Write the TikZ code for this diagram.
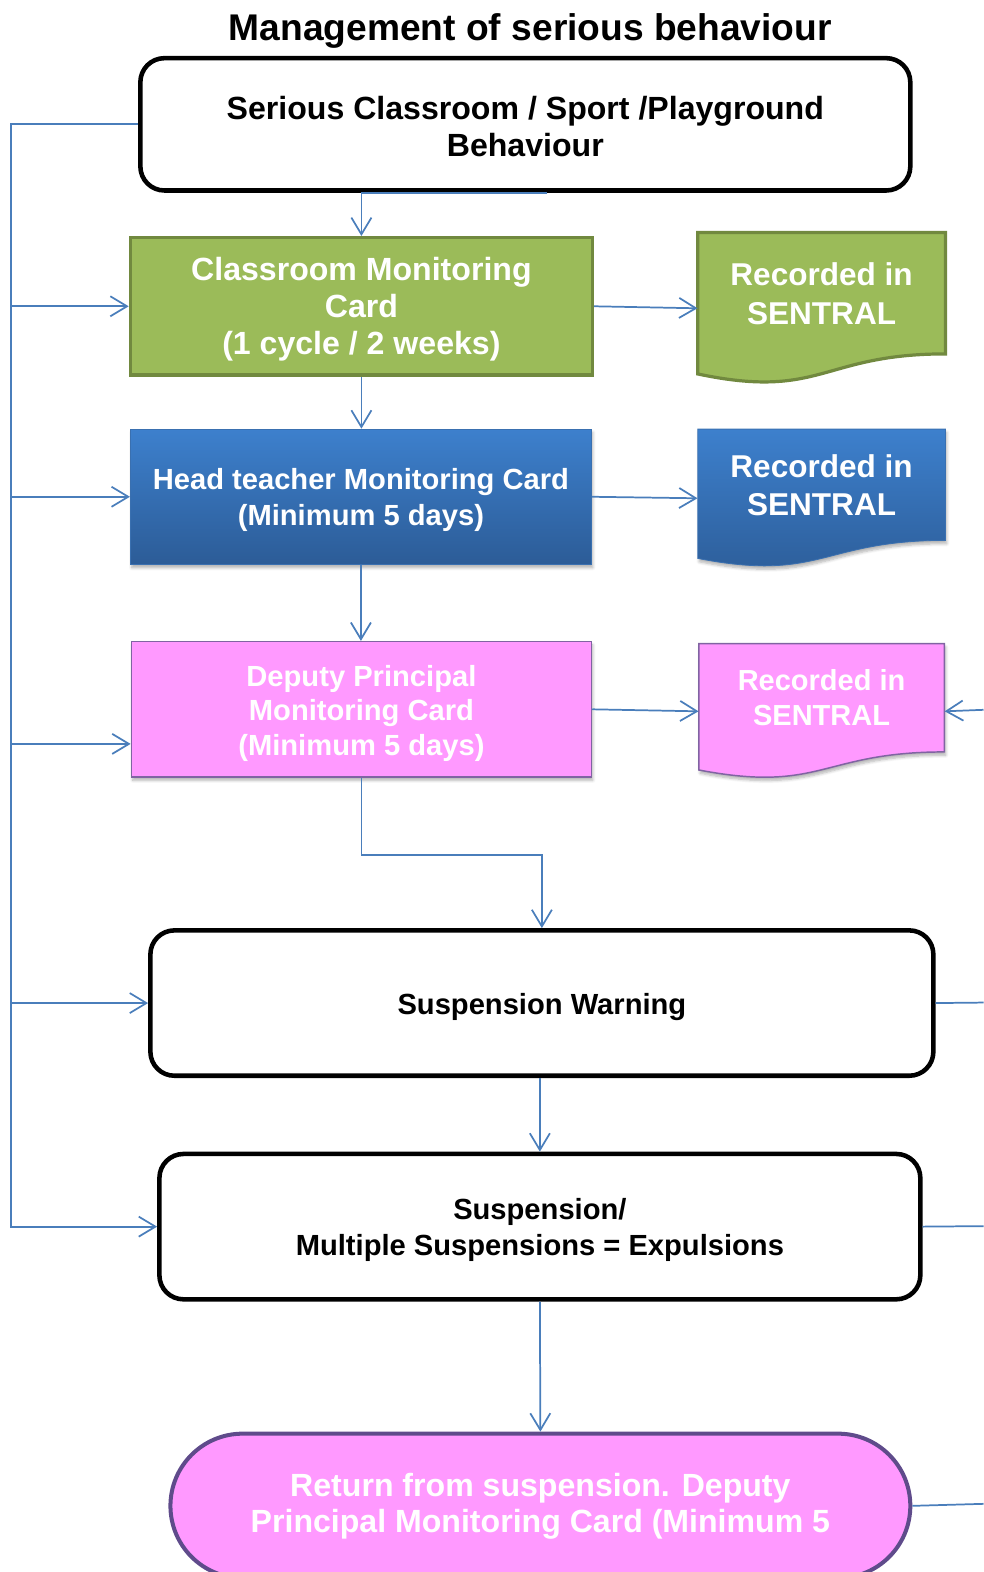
\documentclass[tikz,border=0pt]{standalone}
\usepackage{fontspec}
\setmainfont{Liberation Sans}
\usetikzlibrary{arrows.meta,calc,shapes.misc,shadows.blur}
\definecolor{conn}{HTML}{4A7EBB}
\definecolor{gfill}{HTML}{9BBB59}
\definecolor{gdraw}{HTML}{71893F}
\definecolor{btop}{HTML}{3D80CD}
\definecolor{bbot}{HTML}{2C5C97}
\definecolor{bdraw}{HTML}{3A70B0}
\definecolor{pfill}{HTML}{FF99FF}
\definecolor{pdraw}{HTML}{8064A2}
\definecolor{tdraw}{HTML}{5F4B8B}
\tikzset{
  arr/.style={draw=conn, line width=1.3pt, -{Straight Barb[length=12.5pt,width=15pt]}},
  ln/.style={draw=conn, line width=1.3pt},
  titletext/.style={inner sep=0pt, font=\fontsize{27.8}{32}\selectfont\bfseries},
  blackbox/.style={draw=black, line width=3.4pt, rounded corners=18pt, fill=white, inner sep=0pt},
  greenbox/.style={draw=gdraw, line width=2.4pt, fill=gfill, inner sep=0pt},
  bluebox/.style={draw=bdraw, line width=0.6pt, top color=btop, bottom color=bbot, inner sep=0pt,
    blur shadow={shadow xshift=1pt, shadow yshift=-2.5pt, shadow blur steps=6, shadow opacity=30}},
  pinkbox/.style={draw=pdraw, line width=1.1pt, fill=pfill, inner sep=0pt,
    blur shadow={shadow xshift=1pt, shadow yshift=-2.5pt, shadow blur steps=6, shadow opacity=30}},
  blacktext/.style={align=center, inner sep=0pt, font=\fontsize{21.8}{27}\selectfont\bfseries},
  whitetext/.style={text=white, align=center, inner sep=0pt, font=\fontsize{21.8}{27}\selectfont\bfseries},
  termbox/.style={rounded rectangle, draw=tdraw, line width=3pt, fill=pfill, text=white, align=center, inner sep=0pt,
    font=\fontsize{24}{27}\selectfont\bfseries},
  docanchor/.style={draw=none, inner sep=0pt},
  doctext/.style={text=white, align=center, inner sep=0pt, font=\fontsize{23.6}{28.5}\selectfont\bfseries},
  gdocshape/.style={draw=gdraw, line width=2.4pt, fill=gfill},
  bdocshape/.style={draw=bdraw, line width=0.6pt, top color=btop, bottom color=bbot,
    blur shadow={shadow xshift=1pt, shadow yshift=-2.5pt, shadow blur steps=6, shadow opacity=30}},
  pdocshape/.style={draw=pdraw, line width=1.1pt, fill=pfill,
    blur shadow={shadow xshift=1pt, shadow yshift=-2.5pt, shadow blur steps=6, shadow opacity=30}},
}
\begin{document}
\begin{tikzpicture}[x=0.75pt,y=-0.75pt]
\useasboundingbox (0,0) rectangle (981,1568);

% title
\node[titletext] (title) at (529,31) {Management of serious behaviour};

% main boxes
\node[blackbox, minimum width=576pt, minimum height=99pt] (box1) at (524,124) {};
\node[blacktext, font=\fontsize{24}{27.8}\selectfont\bfseries] (box1t) at (524,126)
  {Serious Classroom / Sport /Playground\\Behaviour};

\node[greenbox, minimum width=345.75pt, minimum height=102.75pt] (green) at (360.5,305.5) {};
\node[whitetext, font=\fontsize{24}{27.5}\selectfont\bfseries] (greent) at (360.5,308.5)
  {Classroom Monitoring\\Card\\(1 cycle / 2 weeks)};

\node[bluebox, minimum width=345pt, minimum height=101.25pt] (blue) at (360,495.5) {};
\node[whitetext] (bluet) at (360,499) {Head teacher Monitoring Card\\(Minimum 5 days)};

\node[pinkbox, minimum width=344.25pt, minimum height=101.25pt] (pink) at (360.5,707.5) {};
\node[whitetext, font=\fontsize{21.8}{26}\selectfont\bfseries] (pinkt) at (360.5,711.5)
  {Deputy Principal\\Monitoring Card\\(Minimum 5 days)};

\node[blackbox, minimum width=585.75pt, minimum height=108.75pt] (sw) at (540.5,1000.5) {};
\node[blacktext] (swt) at (540.5,1004.5) {Suspension Warning};

\node[blackbox, minimum width=569.25pt, minimum height=108.75pt] (susp) at (538.5,1223.5) {};
\node[blacktext] (suspt) at (538.5,1227) {Suspension/\\Multiple Suspensions = Expulsions};

\node[termbox, minimum width=553.5pt, minimum height=108pt]
  (term) at (539,1502) {Return from suspension. Deputy\\Principal Monitoring Card (Minimum 5};

% document shapes
\path[gdocshape] (696,232) -- (943,232) -- (943,353) .. controls (819.5,353) and (819.5,399) .. (696,373) -- cycle;
\node[docanchor, minimum width=185.25pt, minimum height=113.25pt] (gdoc) at (819.5,307.5) {};
\node[doctext] (gdoct) at (819.5,293) {Recorded in\\SENTRAL};

\path[bdocshape] (696,428) -- (943,428) -- (943,539) .. controls (819.5,539) and (819.5,581) .. (696,557) -- cycle;
\node[docanchor, minimum width=185.25pt, minimum height=103.5pt] (bdoc) at (819.5,497) {};
\node[doctext] (bdoct) at (819.5,484) {Recorded in\\SENTRAL};

\path[pdocshape] (697,642) -- (942,642) -- (942,750) .. controls (819.5,750) and (819.5,791.5) .. (697,768) -- cycle;
\node[docanchor, minimum width=183.75pt, minimum height=101.25pt] (pdoc) at (819.5,709.5) {};
\node[doctext, font=\fontsize{21.7}{26}\selectfont\bfseries] (pdoct) at (819.5,695.5) {Recorded in\\SENTRAL};

% coordinates
\coordinate (lt) at (11,124);
\coordinate (rp) at (981,708);
\coordinate (r1) at (981,1000);
\coordinate (r2) at (981,1223);
\coordinate (r3) at (981,1500);

% left feedback line
\draw[arr] (box1.west) -- (lt) |- (susp.west);
\draw[arr] (lt |- green.west) -- (green.west);
\draw[arr] (lt |- blue.west) -- (blue.west);
\draw[arr] ($(lt |- pink.west)+(0,34.5)$) -- ($(pink.west)+(0,34.5)$);
\draw[arr] (lt |- sw.west) -- (sw.west);

% main flow
\draw[arr] ([xshift=16.5pt]box1.south) -| (green.north);
\draw[arr] (green.south) -- (green.south |- blue.north);
\draw[arr] (blue.south) -- (blue.south |- pink.north);
\draw[arr] (pink.south) -- ++(0,77) -| (sw.north);
\draw[arr] (susp.north |- sw.south) -- (susp.north);
\draw[arr] (susp.south) -- (term.north);

% to documents
\draw[arr] (green.east) -- (gdoc.west);
\draw[arr] (blue.east) -- (bdoc.west);
\draw[arr] (pink.east) -- (pdoc.west);
\draw[arr] (rp) -- (pdoc.east);

% right lines
\draw[ln] (sw.east) -- (r1);
\draw[ln] (susp.east) -- (r2);
\draw[ln] (term.east) -- (r3);
\end{tikzpicture}
\end{document}
